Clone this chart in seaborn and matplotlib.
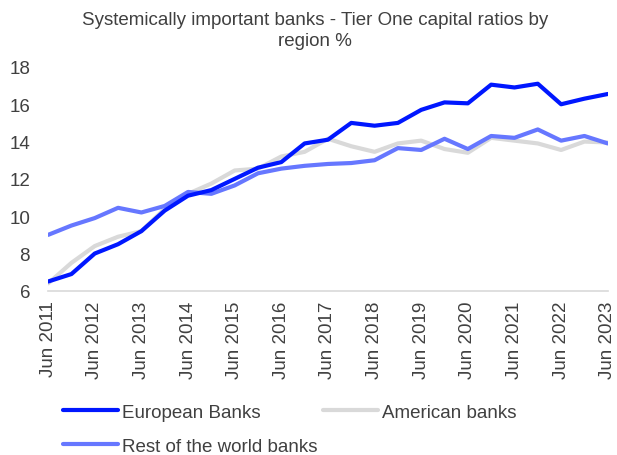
import matplotlib
matplotlib.use("Agg")
import matplotlib.pyplot as plt
import seaborn as sns
import pandas as pd

periods = ["Jun 2011", "Dec 2011", "Jun 2012", "Dec 2012", "Jun 2013", "Dec 2013",
           "Jun 2014", "Dec 2014", "Jun 2015", "Dec 2015", "Jun 2016", "Dec 2016",
           "Jun 2017", "Dec 2017", "Jun 2018", "Dec 2018", "Jun 2019", "Dec 2019",
           "Jun 2020", "Dec 2020", "Jun 2021", "Dec 2021", "Jun 2022", "Dec 2022",
           "Jun 2023"]
european = [6.5, 6.9, 8.0, 8.5, 9.2, 10.3, 11.1, 11.4, 12.0, 12.6, 12.9, 13.9,
            14.1, 15.0, 14.85, 15.0, 15.7, 16.1, 16.05, 17.05, 16.9, 17.1, 16.0, 16.3, 16.55]
american = [6.4, 7.5, 8.4, 8.9, 9.2, 10.4, 11.2, 11.75, 12.45, 12.55, 13.2, 13.45,
            14.15, 13.75, 13.45, 13.9, 14.05, 13.6, 13.4, 14.2, 14.05, 13.9, 13.55, 14.0, 13.95]
rest = [9.0, 9.5, 9.9, 10.45, 10.2, 10.55, 11.3, 11.2, 11.65, 12.3, 12.55, 12.7,
        12.8, 12.85, 13.0, 13.65, 13.55, 14.15, 13.6, 14.3, 14.2, 14.65, 14.05, 14.3, 13.9]
series_names = ["European Banks", "American banks", "Rest of the world banks"]
colors = ["#0017FF", "#D9D9D9", "#6677FF"]
title = "Systemically important banks - Tier One capital ratios by\nregion %"

sns.set_theme(style="white")
plt.rcParams["font.family"] = ["Liberation Sans", "DejaVu Sans"]
text_color = "#404040"
fs = 13.5

df = pd.DataFrame({"idx": list(range(len(periods))) * 3,
                   "value": european + american + rest,
                   "series": [series_names[0]] * len(periods)
                   + [series_names[1]] * len(periods)
                   + [series_names[2]] * len(periods)})

fig = plt.figure(figsize=(6.17, 4.56), dpi=100)
ax = fig.add_axes([0.078, 0.36, 0.907, 0.491])

order = [series_names[1], series_names[2], series_names[0]]
palette = dict(zip(series_names, colors))
for name in order:
    sub = df[df["series"] == name]
    sns.lineplot(data=sub, x="idx", y="value", color=palette[name], linewidth=3.0,
                 ax=ax, label=name, legend=False)

ax.set_xlim(0, len(periods) - 1)
ax.set_ylim(6, 18)
ax.set_yticks(range(6, 19, 2))
ticks = list(range(0, len(periods), 2))
ax.set_xticks(ticks)
ax.set_xticklabels([periods[i] for i in ticks], rotation=90, fontsize=fs, color=text_color)
ax.tick_params(axis="y", labelsize=fs, labelcolor=text_color, length=0, pad=13)
ax.tick_params(axis="x", length=0, pad=7)
ax.set_xlabel("")
ax.set_ylabel("")
for s in ["top", "right", "left"]:
    ax.spines[s].set_visible(False)
ax.spines["bottom"].set_color("#D9D9D9")
ax.spines["bottom"].set_linewidth(1.2)

fig.text(0.511, 0.974, title, ha="center", va="top", fontsize=fs, color=text_color,
         linespacing=1.32)

handles = {l.get_label(): l for l in ax.get_lines()}
leg_order = [series_names[0], series_names[2], series_names[1]]
leg = fig.legend([handles[n] for n in leg_order], leg_order, ncol=2,
                 loc="upper left", bbox_to_anchor=(0.102, 0.112),
                 frameon=False, fontsize=fs, handlelength=2.93, handletextpad=0.22,
                 columnspacing=0.3, labelspacing=0.88, borderaxespad=0,
                 borderpad=0)
for t in leg.get_texts():
    t.set_color(text_color)

fig.savefig("out.png", dpi=100)
